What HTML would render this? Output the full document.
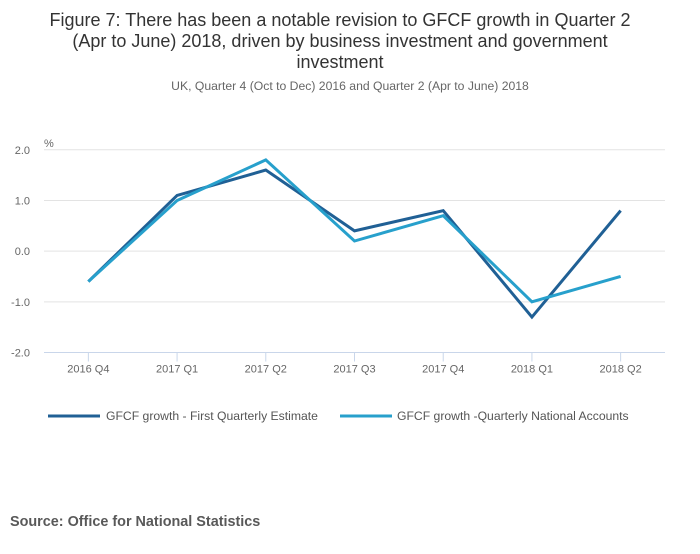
<!DOCTYPE html>
<html><head><meta charset="utf-8"><style>
body{margin:0;background:#fff;font-family:"Liberation Sans",sans-serif;}
svg text{font-family:"Liberation Sans",sans-serif;}
</style></head><body>
<svg id="chart" width="700" height="549" xmlns="http://www.w3.org/2000/svg">
<text x="340" y="26" text-anchor="middle" font-size="18" fill="#333"><tspan x="340" y="26">Figure 7: There has been a notable revision to GFCF growth in Quarter 2</tspan><tspan x="340" y="47">(Apr to June) 2018, driven by business investment and government</tspan><tspan x="340" y="68">investment</tspan></text>
<text x="350" y="90" text-anchor="middle" font-size="12.2" fill="#666">UK, Quarter 4 (Oct to Dec) 2016 and Quarter 2 (Apr to June) 2018</text>
<text x="44" y="147" font-size="11" fill="#666">%</text>
<g id="grid"></g><g id="xaxis"></g><g id="lines"></g>
<g>
<line x1="48" y1="416" x2="100" y2="416" stroke="#206095" stroke-width="3"/>
<text x="106" y="420" font-size="12.2" fill="#555">GFCF growth - First Quarterly Estimate</text>
<line x1="340" y1="416" x2="392" y2="416" stroke="#27a0cc" stroke-width="3"/>
<text x="397" y="420" font-size="12.2" fill="#555">GFCF growth -Quarterly National Accounts</text>
</g>
<text x="10" y="526" font-size="14.4" font-weight="bold" fill="#595959">Source: Office for National Statistics</text>
</svg>
<script>
const categories=["2016 Q4","2017 Q1","2017 Q2","2017 Q3","2017 Q4","2018 Q1","2018 Q2"];
const firstEstimate=[-0.6,1.1,1.6,0.4,0.8,-1.3,0.8];
const nationalAccounts=[-0.6,1.0,1.8,0.2,0.7,-1.0,-0.5];
const yTicks=[2,1,0,-1,-2];
const yTickLabels=["2.0","1.0","0.0","-1.0","-2.0"];
const NS="http://www.w3.org/2000/svg";
const x0=44,x1=665,yTop=149.8,yBot=352.5;
function y(v){return yBot-(v+2)/4*(yBot-yTop);}
const step=(x1-x0)/categories.length;
function x(i){return x0+step*(i+0.5);}
function mk(tag,attrs,parent){const e=document.createElementNS(NS,tag);for(const k in attrs)e.setAttribute(k,attrs[k]);parent.appendChild(e);return e;}
const grid=document.getElementById('grid');
yTicks.forEach((t,i)=>{
  const l=mk('line',{x1:x0,x2:x1,y1:y(t),y2:y(t),stroke:t===-2?'#c9d6ea':'#e3e3e3','stroke-width':1},grid);
  
  
  const tx=mk('text',{x:30,y:y(t)+4,'text-anchor':'end','font-size':11,fill:'#666'},grid);
  tx.textContent=yTickLabels[i];
  
  
});
const xa=document.getElementById('xaxis');
categories.forEach((c,i)=>{
  const l=mk('line',{x1:x(i),x2:x(i),y1:yBot,y2:yBot+9,stroke:'#c9d6ea'},xa);
  
  
  const t=mk('text',{x:x(i),y:yBot+20,'text-anchor':'middle','font-size':11,fill:'#666'},xa);
  t.textContent=c;
  
  
});
const lg=document.getElementById('lines');
function draw(vals,color,name){
  const p=mk('polyline',{points:vals.map((v,i)=>x(i)+','+y(v)).join(' '),fill:'none',stroke:color,'stroke-width':3,'stroke-linejoin':'miter'},lg);
  
  
}
draw(firstEstimate,'#206095','line-first-estimate');
draw(nationalAccounts,'#27a0cc','line-quarterly-national-accounts');
</script>
</body></html>
